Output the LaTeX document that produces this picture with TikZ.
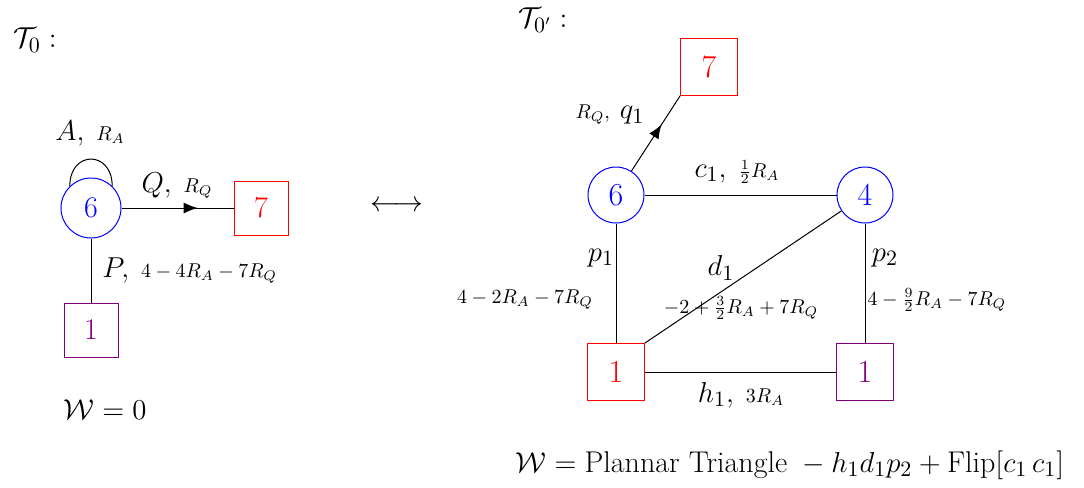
\documentclass[tikz,border=0pt]{standalone}
\usepackage{amsmath}
\usetikzlibrary{arrows.meta,decorations.markings}
\definecolor{pur}{RGB}{128,0,128}
\begin{document}
\begin{tikzpicture}[x=0.5pt,y=-0.5pt,
 every node/.style={inner sep=0pt},
 gauge/.style={circle,draw=blue,text=blue,line width=0.5pt,minimum size=#1},
 flav/.style 2 args={draw=#1,text=#1,line width=0.5pt,minimum size=#2},
 lft/.style={font=\fontsize{15}{18}\selectfont},
 rgt/.style={font=\fontsize{16}{19}\selectfont},
 edge/.style={line width=0.5pt},
 midarrow/.style={postaction={decorate},decoration={markings,mark=at position #1 with {\arrow{Latex[length=7pt,width=5.5pt]}}}},
 big/.style={font=\fontsize{15}{18}\selectfont},
]
\newcommand{\bg}{\fontsize{15}{18}\selectfont}
\useasboundingbox (0,0) rectangle (1084,488);
% left quiver
\node[big] (T0) at (35,40) {$\mathcal{T}_0:$};
\node[gauge=30pt,lft] (L6) at (91,208) {6};
\node[flav={red}{27pt},lft] (L7) at (261,208) {7};
\node[flav={pur}{27pt},lft] (L1) at (91,330) {1};
\draw[edge] (L6.134) .. controls +(0,-36) and +(0,-36) .. (L6.46);
\draw[edge,midarrow=0.68] (L6) -- (L7);
\draw[edge] (L6) -- (L1);
\node (lA) at (90,133) {{\bg$A,$}\hspace{6pt}$R_A$};
\node (lQ) at (177,186) {{\bg$Q,$}\hspace{6pt}$R_Q$};
\node[anchor=west] (lP) at (102,271) {{\bg$P,$}\hspace{6pt}$4-4R_A-7R_Q$};
\node[big] (W0) at (105,410) {$\mathcal{W}=0$};
\node[big] (arr) at (397,206) {$\longleftrightarrow$};
% right quiver
\node[big] (T0p) at (543,20) {$\mathcal{T}_{0'}:$};
\node[gauge=28pt,rgt] (R6) at (616,195) {6};
\node[gauge=28pt,rgt] (R4) at (865,195) {4};
\node[flav={red}{28.5pt},rgt] (R7) at (709,67) {7};
\node[flav={red}{28.5pt},rgt] (R1a) at (616,372) {1};
\node[flav={pur}{28.5pt},rgt] (R1b) at (865,372) {1};
\draw[edge,midarrow=0.62] (R6) -- (R7.south west);
\draw[edge] (R6) -- (R4);
\draw[edge] (R6) -- (R1a);
\draw[edge] (R4) -- (R1b);
\draw[edge] (R4) -- (R1a.north east);
\draw[edge] (R1a) -- (R1b);
\node (lq) at (610,115) {$R_Q,$\hspace{5pt}{\bg$q_1$}};
\node (lc) at (737,172) {{\bg$c_1,$}\hspace{6pt}$\frac12R_A$};
\node[big] (lp1) at (601,258) {$p_1$};
\node (lp1r) at (525,300) {$4-2R_A-7R_Q$};
\node[big] (ld1) at (721,268) {$d_1$};
\node (ld1r) at (741,308) {$-2+\frac32R_A+7R_Q$};
\node[big] (lp2) at (885,258) {$p_2$};
\node (lp2r) at (937,300) {$4-\frac92R_A-7R_Q$};
\node (lh) at (741,395) {{\bg$h_1,$}\hspace{6pt}$3R_A$};
\node[big] (W) at (790,465) {$\mathcal{W}=\text{Plannar Triangle}\ -h_1d_1p_2+\text{Flip}[c_1\,c_1]$};
\end{tikzpicture}
\end{document}
